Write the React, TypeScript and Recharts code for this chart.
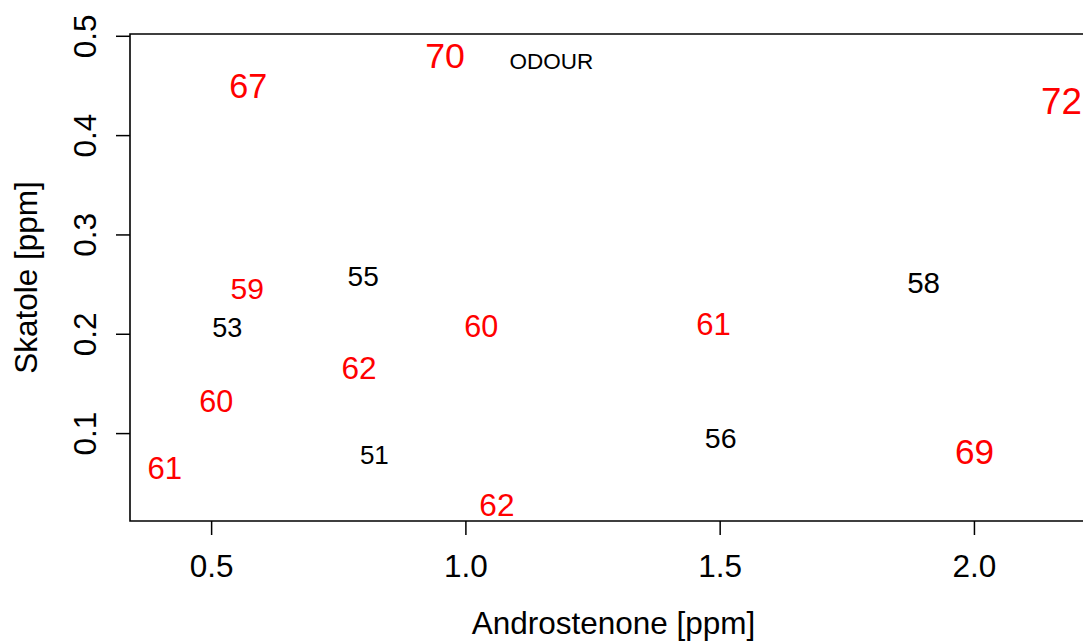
import React from 'react';
import {
  ScatterChart,
  Scatter,
  XAxis,
  YAxis,
  ReferenceArea,
  Label,
} from 'recharts';

// Boar taint panel: androstenone vs skatole, each carcass labelled with its odour score
const androstenone = [0.959, 0.572, 2.171, 0.798, 1.9, 0.57, 0.531, 1.03, 1.487, 0.79, 0.509, 1.501, 0.82, 2.0, 0.408, 1.061];
const skatole = [0.481, 0.45, 0.435, 0.259, 0.252, 0.246, 0.207, 0.208, 0.21, 0.1665, 0.133, 0.096, 0.079, 0.082, 0.066, 0.028];
const odourScore = [70, 67, 72, 55, 58, 59, 53, 60, 61, 62, 60, 56, 51, 69, 61, 62];

// Header text placed in data space
const headerText = ['ODOUR'];
const headerX = [1.168];
const headerY = [0.475];

const xTicks = [0.5, 1.0, 1.5, 2.0];
const yTicks = [0.1, 0.2, 0.3, 0.4, 0.5];
const xDomain: [number, number] = [0.3395, 2.241];
const yDomain: [number, number] = [0.012, 0.5023];

const FONT = '"Liberation Sans", Arial, Helvetica, sans-serif';
const AXIS_FONT = 31.5;

const points = androstenone.map((a, i) => ({ a, s: skatole[i], score: odourScore[i] }));
const header = headerText.map((t, i) => ({ a: headerX[i], s: headerY[i], text: t }));

const ScoreLabel = (props: any) => {
  const { cx, cy } = props;
  const d = props.payload ?? props;
  const score: number = d.score;
  return (
    <text
      x={cx}
      y={cy}
      dy="0.358em"
      textAnchor="middle"
      fontFamily={FONT}
      fontSize={score * 0.51}
      fill={score >= 59 ? '#ff0000' : '#000000'}
    >
      {score}
    </text>
  );
};

const HeaderLabel = (props: any) => {
  const { cx, cy } = props;
  const d = props.payload ?? props;
  return (
    <text x={cx} y={cy} dy="0.358em" textAnchor="middle" fontFamily={FONT} fontSize={22.5} fill="#000">
      {d.text}
    </text>
  );
};

const XTick = (props: any) => {
  const { x, y, payload } = props;
  return (
    <text x={x} y={y + 41.5} textAnchor="middle" fontFamily={FONT} fontSize={AXIS_FONT} fill="#000">
      {Number(payload.value).toFixed(1)}
    </text>
  );
};

const YTick = (props: any) => {
  const { x, y, payload } = props;
  const cx = x - 31.3;
  return (
    <text
      x={cx}
      y={y}
      dy="0.358em"
      textAnchor="middle"
      transform={`rotate(-90, ${cx}, ${y})`}
      fontFamily={FONT}
      fontSize={AXIS_FONT}
      fill="#000"
    >
      {Number(payload.value).toFixed(1)}
    </text>
  );
};

const XTitle = (props: any) => {
  const vb = props.viewBox;
  return (
    <text x={vb.x + vb.width / 2} y={vb.y + 112.5} textAnchor="middle" fontFamily={FONT} fontSize={AXIS_FONT} fill="#000">
      Androstenone [ppm]
    </text>
  );
};

const YTitle = (props: any) => {
  const vb = props.viewBox;
  const cx = vb.x - 4;
  const cy = vb.y + vb.height / 2;
  return (
    <text
      x={cx}
      y={cy}
      dy="0.358em"
      textAnchor="middle"
      transform={`rotate(-90, ${cx}, ${cy})`}
      fontFamily={FONT}
      fontSize={AXIS_FONT}
      fill="#000"
    >
      Skatole [ppm]
    </text>
  );
};

export default function App() {
  return (
    <div
      style={{
        position: 'absolute',
        left: 0,
        top: 0,
        width: 1083,
        height: 641,
        overflow: 'hidden',
        background: '#ffffff',
      }}
    >
      <ScatterChart width={1120} height={641} margin={{ top: 34, right: 23, bottom: 30, left: 30 }}>
        <XAxis
          type="number"
          dataKey="a"
          domain={xDomain}
          ticks={xTicks}
          allowDataOverflow
          height={90}
          axisLine={false}
          tickSize={14}
          tickMargin={0}
          tickLine={{ stroke: '#000', strokeWidth: 1.5 }}
          tick={<XTick />}
          interval={0}
        >
          <Label content={<XTitle />} />
        </XAxis>
        <YAxis
          type="number"
          dataKey="s"
          domain={yDomain}
          ticks={yTicks}
          allowDataOverflow
          width={100}
          axisLine={false}
          tickSize={14}
          tickMargin={0}
          tickLine={{ stroke: '#000', strokeWidth: 1.5 }}
          tick={<YTick />}
          interval={0}
        >
          <Label content={<YTitle />} />
        </YAxis>
        <ReferenceArea
          x1={xDomain[0]}
          x2={xDomain[1]}
          y1={yDomain[0]}
          y2={yDomain[1]}
          fill="none"
          fillOpacity={0}
          stroke="#000"
          strokeWidth={1.6}
          ifOverflow="visible"
        />
        <Scatter data={points} shape={<ScoreLabel />} isAnimationActive={false} />
        <Scatter data={header} shape={<HeaderLabel />} isAnimationActive={false} />
      </ScatterChart>
    </div>
  );
}
